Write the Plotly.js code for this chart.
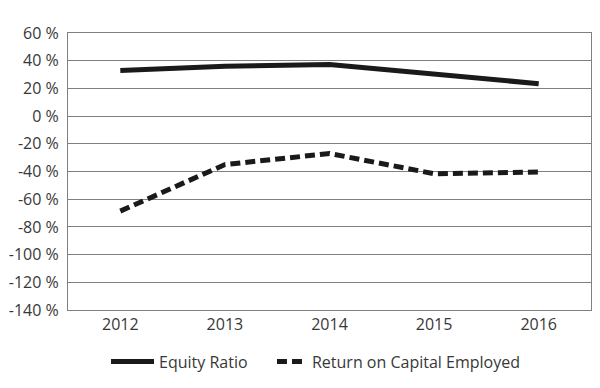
<!DOCTYPE html>
<html>
<head>
<meta charset="utf-8">
<script src="https://cdn.plot.ly/plotly-3.0.1.min.js"></script>
<style>html,body{margin:0;padding:0;background:#fff;}#chart{width:600px;height:388px;}</style>
</head>
<body>
<div id="chart"></div>
<script>
const years = ["2012", "2013", "2014", "2015", "2016"];
const equityRatio = [33, 36, 37.3, 30, 23.4];
const returnOnCapitalEmployed = [-68.6, -35, -27, -41.6, -40.4];
const yTickValues = [60, 40, 20, 0, -20, -40, -60, -80, -100, -120, -140];
const yTickLabels = ["60 %", "40 %", "20 %", "0 %", "-20 %", "-40 %", "-60 %", "-80 %", "-100 %", "-120 %", "-140 %"];

const traces = [
  {x: years, y: equityRatio, name: "Equity Ratio", type: "scatter", mode: "lines",
   line: {color: "#1a1a1a", width: 5}, legend: "legend"},
  {x: years, y: returnOnCapitalEmployed, name: "Return on Capital Employed", type: "scatter", mode: "lines",
   line: {color: "#1a1a1a", width: 5, dash: "10px,5px"}, legend: "legend2"}
];

const legendBase = {orientation: "h", xanchor: "left", y: -0.125, yanchor: "top",
                    font: {size: 16, color: "#383838"}, bgcolor: "rgba(0,0,0,0)"};

const layout = {
  width: 600, height: 388,
  margin: {l: 68, r: 9, t: 33, b: 76},
  paper_bgcolor: "#fff", plot_bgcolor: "#fff",
  font: {family: "Open Sans, sans-serif", size: 16, color: "#383838"},
  showlegend: true,
  legend: Object.assign({}, legendBase, {x: 0.0727, itemwidth: 43}),
  legend2: Object.assign({}, legendBase, {x: 0.39}),
  xaxis: {type: "category", showgrid: false, zeroline: false,
          showline: true, linecolor: "#808080", linewidth: 1, mirror: true,
          ticks: "", tickfont: {size: 16, color: "#383838"}, range: [-0.5, 4.5]},
  yaxis: {range: [-140, 60], tickvals: yTickValues, ticktext: yTickLabels,
          showgrid: true, gridcolor: "#808080", gridwidth: 1, zeroline: false,
          showline: true, linecolor: "#808080", linewidth: 1, mirror: true,
          ticks: "outside", ticklen: 5, tickcolor: "rgba(0,0,0,0)",
          tickfont: {size: 16, color: "#383838"}}
};

Plotly.newPlot("chart", traces, layout, {displayModeBar: false, staticPlot: true});
</script>
</body>
</html>
